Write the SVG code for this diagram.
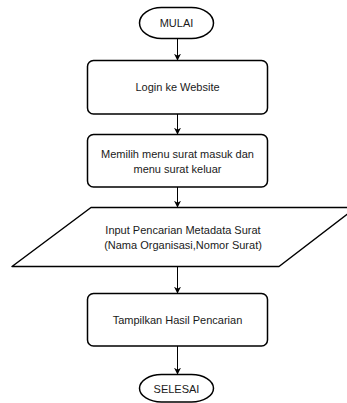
<svg xmlns="http://www.w3.org/2000/svg" width="347" height="403" viewBox="0 0 347 403">
<style>
.s{fill:#fff;stroke:#000;stroke-width:1.5}
.t{font-family:"Liberation Sans",Arial,sans-serif;font-size:11px;fill:#1a1a1a;text-anchor:middle;dominant-baseline:central}
.c{stroke:#000;stroke-width:1;fill:none}
</style>
<defs>
<marker id="a" viewBox="0 0 10 10" refX="9" refY="5" markerWidth="7" markerHeight="7" markerUnits="userSpaceOnUse" orient="auto">
<path d="M0,0 L10,5 L0,10 L3,5 Z" fill="#000"/>
</marker>
</defs>
<g id="connectors">
<line class="c" x1="177.5" y1="38" x2="177.5" y2="60" marker-end="url(#a)"/>
<line class="c" x1="177.5" y1="114" x2="177.5" y2="134" marker-end="url(#a)"/>
<line class="c" x1="177.5" y1="187" x2="177.5" y2="207" marker-end="url(#a)"/>
<line class="c" x1="177.5" y1="267" x2="177.5" y2="293" marker-end="url(#a)"/>
<line class="c" x1="177.5" y1="346" x2="177.5" y2="374" marker-end="url(#a)"/>
</g>
<g id="mulai">
<rect class="s" x="139.5" y="7.5" width="74" height="31" rx="22" ry="15.5"/>
<text class="t" x="176.5" y="23">MULAI</text>
</g>
<g id="login">
<rect class="s" x="87.5" y="60.5" width="180" height="53.5" rx="6"/>
<text class="t" x="177.5" y="87">Login ke Website</text>
</g>
<g id="memilih">
<rect class="s" x="87.5" y="134.5" width="180" height="52.5" rx="6"/>
<text class="t" x="177.5" y="154">Memilih menu surat masuk dan</text>
<text class="t" x="177.5" y="169">menu surat keluar</text>
</g>
<g id="input">
<path class="s" d="M91,207.5 L356,207.5 L279,266.5 L12,266.5 Z" stroke-linejoin="round"/>
<text class="t" x="183" y="230">Input Pencarian Metadata Surat</text>
<text class="t" x="183" y="245">(Nama Organisasi,Nomor Surat)</text>
</g>
<g id="tampilkan">
<rect class="s" x="87.5" y="293.5" width="180" height="52.5" rx="6"/>
<text class="t" x="177.5" y="320">Tampilkan Hasil Pencarian</text>
</g>
<g id="selesai">
<rect class="s" x="139.5" y="374.5" width="74" height="27.5" rx="22" ry="13.75"/>
<text class="t" x="176.5" y="388.5">SELESAI</text>
</g>
</svg>
